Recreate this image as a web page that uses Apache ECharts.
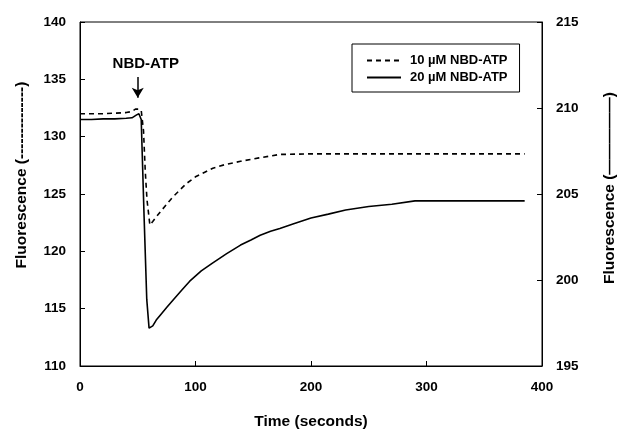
<!DOCTYPE html>
<html>
<head>
<meta charset="utf-8">
<script src="https://cdn.jsdelivr.net/npm/echarts@6/dist/echarts.min.js"></script>
<style>
  html, body { margin: 0; padding: 0; background: #fff; }
  #chart { width: 619px; height: 431px; }
</style>
</head>
<body>
<div id="chart"></div>
<script>
// 10 uM NBD-ATP (dashed), left axis units
const timeDash = [0, 10, 20, 30, 40, 45, 48, 51, 53, 55, 56.5, 58, 60.5, 63, 66, 70, 75, 80, 85, 92, 100, 108, 115, 125, 139, 155, 173, 200, 250, 300, 385]
const fluorDash = [132.0, 132.0, 132.0, 132.05, 132.1, 132.2, 132.4, 132.4, 132.3, 130.5, 127, 124.5, 122.3, 122.6, 123.0, 123.5, 124.1, 124.7, 125.2, 125.9, 126.5, 126.9, 127.25, 127.55, 127.85, 128.15, 128.45, 128.5, 128.5, 128.5, 128.5]

// 20 uM NBD-ATP (solid), right axis units
const timeSolid = [0, 10, 20, 30, 40, 45, 49, 51, 53, 55.5, 57.8, 59.8, 60.7, 63, 66, 70, 75, 81, 88, 95, 105, 115, 127, 139, 148, 156, 165, 173, 185, 200, 215, 230, 250, 270, 290, 385]
const fluorSolid = [209.33, 209.33, 209.37, 209.37, 209.4, 209.43, 209.6, 209.67, 209.33, 203.67, 198.87, 197.2, 197.13, 197.33, 197.67, 198.0, 198.4, 198.87, 199.4, 199.93, 200.53, 201.0, 201.53, 202.03, 202.33, 202.6, 202.83, 203.0, 203.27, 203.6, 203.83, 204.07, 204.27, 204.4, 204.6, 204.6]

const leftTicks = [110, 140]
const rightTicks = [195, 215]
const timeTicks = [0, 400]

const font = 'Arial, "Liberation Sans", sans-serif'

let chart = echarts.init(document.getElementById('chart'))

const axisCommon = {
    axisLine: { show: true, lineStyle: { color: '#000', width: 1 } },
    axisTick: { show: true, inside: true, length: 5, lineStyle: { color: '#000' } },
    splitLine: { show: false },
    axisLabel: { color: '#000', fontWeight: 'bold', fontSize: 13.5, fontFamily: font },
}

let option = {
    animation: false,
    backgroundColor: '#fff',
    grid: {
        left: 80,
        right: 77,
        top: 22,
        bottom: 65,
        show: true,
        borderColor: '#000',
        borderWidth: 1,
        outerBoundsMode: 'none',
    },
    legend: {
        orient: 'vertical',
        left: 352,
        top: 44,
        padding: [10, 12, 8, 14],
        itemGap: 4,
        itemWidth: 34,
        itemHeight: 10,
        borderColor: '#000',
        borderWidth: 1,
        itemStyle: { opacity: 0 },
        textStyle: { color: '#000', fontWeight: 'bold', fontSize: 13, fontFamily: font, padding: [0, 0, 0, 4] },
        data: ['10 µM NBD-ATP', '20 µM NBD-ATP'],
    },
    xAxis: {
        ...axisCommon,
        type: 'value',
        min: timeTicks[0],
        max: timeTicks[1],
        interval: 100,
        name: 'Time (seconds)',
        nameLocation: 'middle',
        nameGap: 48,
        nameTextStyle: { color: '#000', fontWeight: 'bold', fontSize: 15.5, fontFamily: font },
        axisLabel: { ...axisCommon.axisLabel, margin: 14 },
    },
    yAxis: [
        {
            ...axisCommon,
            type: 'value',
            position: 'left',
            min: leftTicks[0],
            max: leftTicks[1],
            interval: 5,
            axisLabel: { ...axisCommon.axisLabel, margin: 14 },
        },
        {
            ...axisCommon,
            type: 'value',
            position: 'right',
            min: rightTicks[0],
            max: rightTicks[1],
            interval: 5,
            axisLabel: { ...axisCommon.axisLabel, margin: 14 },
        },
    ],
    graphic: [
        {
            type: 'text',
            x: 22,
            y: 175,
            rotation: Math.PI / 2,
            style: {
                text: 'Fluorescence (--------------)',
                font: 'bold 15.5px ' + font,
                fill: '#000',
                align: 'center',
                verticalAlign: 'middle',
            },
        },
        {
            type: 'text',
            x: 610,
            y: 188,
            rotation: Math.PI / 2,
            style: {
                text: 'Fluorescence (—————)',
                font: 'bold 15.5px ' + font,
                fill: '#000',
                align: 'center',
                verticalAlign: 'middle',
            },
        },
    ],
    series: [
        {
            name: '10 µM NBD-ATP',
            type: 'line',
            yAxisIndex: 0,
            showSymbol: false,
            symbol: 'none',
            data: timeDash.map((t, i) => [t, fluorDash[i]]),
            lineStyle: { color: '#000', width: 1.6, type: [5, 4] },
            itemStyle: { color: '#000' },
            markLine: {
                silent: true,
                animation: false,
                lineStyle: { color: '#000', width: 1.5, type: 'solid' },
                label: {
                    show: true,
                    position: 'start',
                    formatter: 'NBD-ATP',
                    color: '#000',
                    fontWeight: 'bold',
                    fontSize: 15,
                    fontFamily: font,
                    distance: 6,
                    offset: [8, 0],
                },
                data: [[
                    { coord: [50, 135.2], symbol: 'none' },
                    { coord: [50, 133.4], symbol: 'arrow', symbolSize: [9, 10] },
                ]],
            },
        },
        {
            name: '20 µM NBD-ATP',
            type: 'line',
            yAxisIndex: 1,
            showSymbol: false,
            symbol: 'none',
            data: timeSolid.map((t, i) => [t, fluorSolid[i]]),
            lineStyle: { color: '#000', width: 1.6, type: 'solid' },
            itemStyle: { color: '#000' },
        },
    ],
}

chart.setOption(option)
window.addEventListener('resize', () => {
    chart.resize()
})
</script>
</body>
</html>
